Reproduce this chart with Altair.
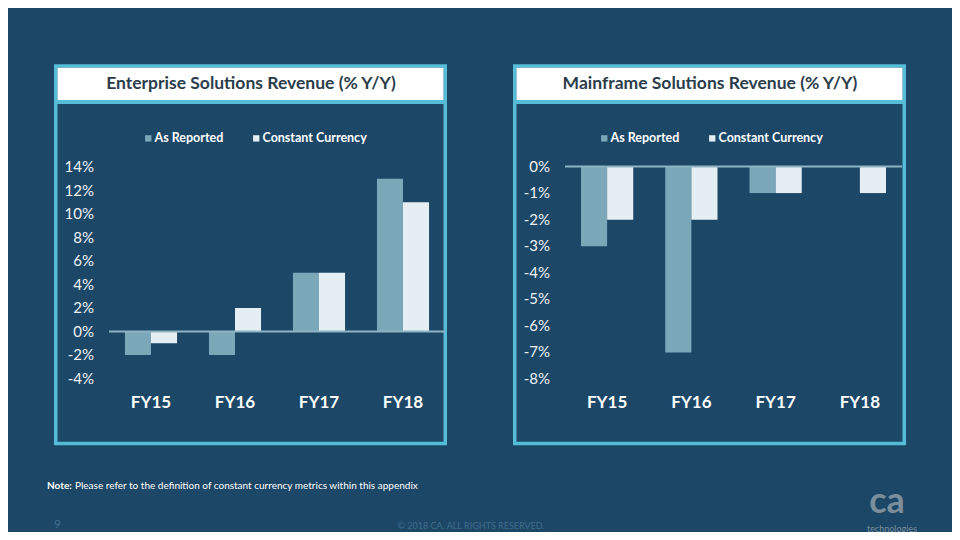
import altair as alt
import pandas as pd

# ---------------- data ----------------
categories = ["FY15", "FY16", "FY17", "FY18"]
series = ["As Reported", "Constant Currency"]

ent_reported = [-2, -2, 5, 13]
ent_constant = [-1, 2, 5, 11]
main_reported = [-3, -7, -1, 0]
main_constant = [-2, -2, -1, -1]

ent_ticks = [-4, -2, 0, 2, 4, 6, 8, 10, 12, 14]
main_ticks = [-8, -7, -6, -5, -4, -3, -2, -1, 0]

ent_title = "Enterprise Solutions Revenue (% Y/Y)"
main_title = "Mainframe Solutions Revenue (% Y/Y)"
note_bold = "Note:"
note_text = "Please refer to the definition of constant currency metrics within this appendix"
copyright_text = "\u00a9 2018 CA. ALL RIGHTS RESERVED."
page_no = "9"

# ---------------- styles ----------------
BG = "#1c4767"
BORDER = "#56bdd8"
C_REP = "#7ba8b9"
C_CC = "#e5eef2"
TXT = "#eef3f6"
FONT = "Lato"


def long_df(reported, constant):
    rows = []
    for c, r, k in zip(categories, reported, constant):
        rows.append({"cat": c, "series": series[0], "value": r})
        rows.append({"cat": c, "series": series[1], "value": k})
    return pd.DataFrame(rows)


def panel(reported, constant, ticks, xrange, yrange, ydomain, tick_x, legend_x):
    df = long_df(reported, constant)
    xs = alt.Scale(domain=categories, range=xrange, paddingInner=0.38, paddingOuter=0.19)
    ys = alt.Scale(domain=ydomain, range=yrange, nice=False, zero=True)
    bars = alt.Chart(df).mark_bar(strokeWidth=0).encode(
        x=alt.X("cat:N", scale=xs, axis=None, sort=categories),
        xOffset=alt.XOffset("series:N", sort=series),
        y=alt.Y("value:Q", scale=ys, axis=None),
        color=alt.Color(
            "series:N",
            scale=alt.Scale(domain=series, range=[C_REP, C_CC]),
            legend=alt.Legend(
                orient="none", legendX=legend_x, legendY=124, direction="horizontal",
                title=None, symbolType="square", symbolSize=40, symbolStrokeWidth=0,
                labelFont=FONT, labelFontSize=12.5, labelFontWeight="bold",
                labelColor="white", columnPadding=26, labelOffset=0, padding=0,
            ),
        ),
    )
    zero = alt.Chart(alt.Data(values=[{}])).mark_rule(color="#8db3c4", strokeWidth=2).encode(
        y=alt.Y(datum=0, scale=ys),
        x=alt.value(xrange[0]), x2=alt.value(xrange[1]),
    )
    tdf = pd.DataFrame({"t": ticks, "lab": [f"{t}%" for t in ticks]})
    ylabels = alt.Chart(tdf).mark_text(
        align="right", baseline="middle", font=FONT, fontSize=15, color=TXT
    ).encode(y=alt.Y("t:Q", scale=ys), x=alt.value(tick_x), text="lab:N")
    cdf = pd.DataFrame({"cat": categories})
    xlabels = alt.Chart(cdf).mark_text(
        align="center", baseline="middle", font=FONT, fontSize=17, fontWeight="bold", color="white"
    ).encode(x=alt.X("cat:N", scale=xs, bandPosition=0.5, sort=categories), y=alt.value(395), text="cat:N")
    return alt.layer(bars, zero, ylabels, xlabels)


one = alt.Data(values=[{}])


def frame(dx, title):
    outer = alt.Chart(one).mark_rect(filled=False, stroke=BORDER, strokeWidth=3.5).encode(
        x=alt.value(47.75 + dx), x2=alt.value(437.25 + dx), y=alt.value(58), y2=alt.value(435.5)
    )
    tbox = alt.Chart(one).mark_rect(fill="white", strokeWidth=0).encode(
        x=alt.value(49.5 + dx), x2=alt.value(435.5 + dx), y=alt.value(59.75), y2=alt.value(92)
    )
    sep = alt.Chart(one).mark_rule(color=BORDER, strokeWidth=4).encode(
        x=alt.value(47.75 + dx), x2=alt.value(437.25 + dx), y=alt.value(94)
    )
    ttl = alt.Chart(one).mark_text(
        font=FONT, fontSize=17.5, fontWeight="bold", color="#2b3d4b", align="center", baseline="middle"
    ).encode(x=alt.value(243 + dx), y=alt.value(76), text=alt.value(title))
    return [outer, tbox, sep, ttl]


left = panel(ent_reported, ent_constant, ent_ticks, [101, 437], [370.5, 159], [-4, 14], 86, 134)
right = panel(main_reported, main_constant, main_ticks, [557, 894], [371, 158.5], [-8, 0], 542, 590)

note1 = alt.Chart(one).mark_text(font=FONT, fontSize=10, fontWeight="bold", color="white", align="left", baseline="middle").encode(
    x=alt.value(39), y=alt.value(478), text=alt.value(note_bold))
note2 = alt.Chart(one).mark_text(font=FONT, fontSize=10, color="white", align="left", baseline="middle").encode(
    x=alt.value(67), y=alt.value(478), text=alt.value(note_text))
copy = alt.Chart(one).mark_text(font=FONT, fontSize=9, color="#3f6d8c", align="center", baseline="middle").encode(
    x=alt.value(463), y=alt.value(518), text=alt.value(copyright_text))
pg = alt.Chart(one).mark_text(font=FONT, fontSize=12, color="#3f6d8c", align="left", baseline="middle").encode(
    x=alt.value(46), y=alt.value(516), text=alt.value(page_no))
logo = alt.Chart(one).mark_text(font=FONT, fontSize=36, fontWeight="bold", color="#7a8e9c", align="center", baseline="alphabetic").encode(
    x=alt.value(879), y=alt.value(505), text=alt.value("ca"))
logo2 = alt.Chart(one).mark_text(font=FONT, fontSize=9, color="#7a8e9c", align="center", baseline="alphabetic").encode(
    x=alt.value(884), y=alt.value(523.5), text=alt.value("technologies"))

layers = frame(0, ent_title) + frame(459, main_title) + [left, right, note1, note2, copy, pg, logo, logo2]

chart = alt.layer(*layers).resolve_scale(
    x="independent", y="independent", color="independent", xOffset="independent"
).resolve_legend(color="independent").properties(
    width=944, height=524, autosize=alt.AutoSizeParams(type="none"), padding=0, background=BG
).configure_view(strokeWidth=0)

chart.save("out.html", embed_options={"renderer": "svg", "actions": False})
